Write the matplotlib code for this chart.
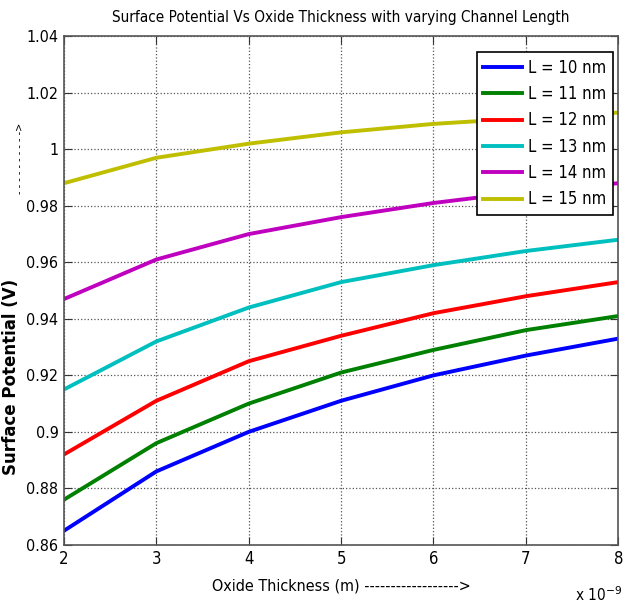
import matplotlib.pyplot as plt
import numpy as np

# oxide thickness in nm (plotted in metres)
tox = [2, 3, 4, 5, 6, 7, 8]
labels = ['L = 10 nm', 'L = 11 nm', 'L = 12 nm', 'L = 13 nm', 'L = 14 nm', 'L = 15 nm']
psi_10 = [0.865, 0.886, 0.900, 0.911, 0.920, 0.927, 0.933]
psi_11 = [0.876, 0.896, 0.910, 0.921, 0.929, 0.936, 0.941]
psi_12 = [0.892, 0.911, 0.925, 0.934, 0.942, 0.948, 0.953]
psi_13 = [0.915, 0.932, 0.944, 0.953, 0.959, 0.964, 0.968]
psi_14 = [0.947, 0.961, 0.970, 0.976, 0.981, 0.985, 0.988]
psi_15 = [0.988, 0.997, 1.002, 1.006, 1.009, 1.011, 1.013]
colors = ['#0000ff', '#008000', '#ff0000', '#00bfbf', '#bf00bf', '#bfbf00']

txt = dict(family='DejaVu Sans', stretch='condensed')

fig = plt.figure(figsize=(6.27, 6.15), dpi=100)
ax = fig.add_axes([0.102, 0.114, 0.884, 0.827])

x = np.array(tox) * 1e-9
for y, c, lab in zip([psi_10, psi_11, psi_12, psi_13, psi_14, psi_15], colors, labels):
    ax.plot(x, y, color=c, lw=2.8, label=lab)

ax.set_xlim(2e-9, 8e-9)
ax.set_ylim(0.86, 1.04)
ax.set_xticks(x)
ax.set_xticklabels([str(t) for t in tox], fontsize=12, **txt)
yt = np.arange(0.86, 1.041, 0.02)
ax.set_yticks(yt)
ax.set_yticklabels(['%g' % round(v, 2) for v in yt], fontsize=11.5, **txt)
ax.tick_params(direction='in', top=True, right=True, length=6, color='#333333', pad=4)
ax.grid(True, color='#555555', linestyle=':', linewidth=0.9)
for s in ax.spines.values():
    s.set_color('#555555')
    s.set_linewidth(1.2)

ax.set_title('Surface Potential Vs Oxide Thickness with varying Channel Length',
             fontsize=11, pad=10, **txt)
ax.set_xlabel('Oxide Thickness (m) ------------------>', fontsize=11.5, labelpad=7, **txt)
ax.set_ylabel('Surface Potential (V)', fontsize=12, fontweight='bold')
ax.yaxis.set_label_coords(-0.080, 0.33)
ax.text(-0.080, 0.76, '- - - - - - - - - ->', transform=ax.transAxes, rotation=90,
        ha='center', va='center', fontsize=7)
fig.text(0.955, 0.022, r'x 10$^{-9}$', fontsize=11, ha='center', **txt)

leg = ax.legend(loc='upper right', bbox_to_anchor=(0.991, 0.969), borderaxespad=0,
                fancybox=False, edgecolor='black', framealpha=1, handlelength=2.3,
                borderpad=0.4, labelspacing=0.5, handletextpad=0.4,
                prop=dict(size=12, **txt))
leg.get_frame().set_linewidth(1.2)

fig.savefig('out.png', dpi=100)
